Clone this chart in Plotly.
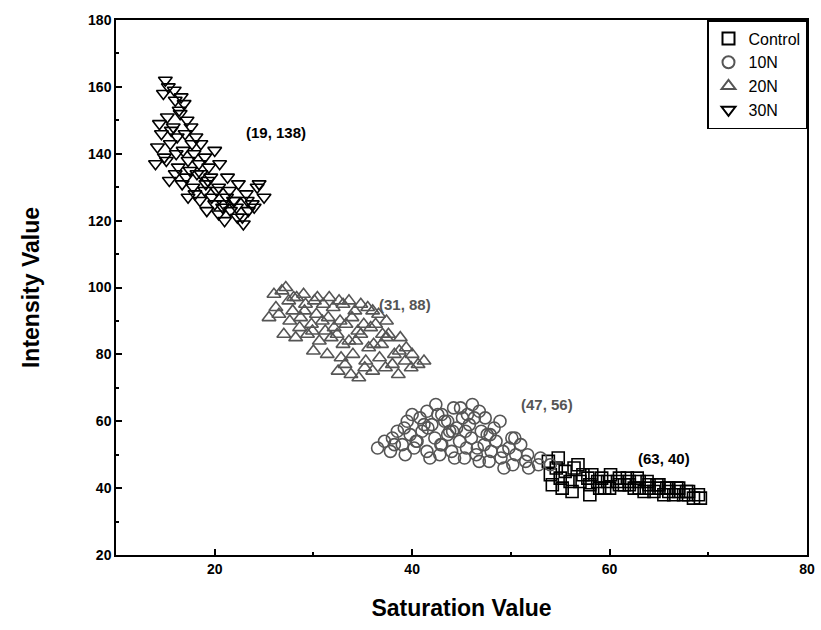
import plotly.graph_objects as go

# ---- data ----
series_names = ["Control", "10N", "20N", "30N"]

control_x = [53.8, 54.6, 55.5, 56.4, 57.3, 58.2, 59.2, 60.1, 61.0, 62.0, 63.0, 64.0, 65.0, 66.0, 67.0, 68.0, 69.0,
             54.2, 55.2, 56.2, 58.0, 59.5, 61.5, 62.5, 63.5, 64.5, 65.5, 66.5, 67.5, 68.5,
             54.0, 55.0, 56.0, 57.0, 58.0, 59.0, 60.0, 61.0, 62.0, 63.0, 64.0, 65.0, 66.0, 67.0, 68.0, 69.2,
             54.8, 56.8, 57.8, 58.8, 59.8, 60.8, 61.8, 62.8, 63.8, 64.8, 65.8, 66.8, 67.8]
control_y = [48, 46, 45, 46, 44, 44, 43, 44, 43, 42, 42, 41, 41, 40, 40, 39, 38,
             41, 40, 39, 38, 40, 41, 40, 39, 39, 38, 38, 38, 37,
             44, 43, 42, 42, 41, 40, 40, 41, 41, 40, 40, 40, 39, 39, 38, 37,
             49, 47, 43, 42, 42, 42, 43, 43, 42, 41, 40, 40, 39]

n10_x = [36.5, 37.8, 39.0, 40.2, 41.5, 42.8, 44.0, 45.3, 46.5, 47.8, 49.0, 50.2, 51.5, 52.8,
         38.5, 39.8, 41.0, 42.3, 43.6, 44.8, 46.0, 47.3, 48.5, 49.8, 51.0,
         39.5, 40.8, 42.0, 43.3, 44.5, 45.8, 47.0, 48.3,
         41.5, 43.0, 44.2, 45.6, 46.8,
         37.2, 38.2, 39.3, 40.5, 41.8, 43.0, 44.3, 45.5, 46.8, 48.0, 49.3, 50.5, 51.8, 53.0, 54.0,
         38.0, 39.2, 40.4, 41.6, 42.9, 44.1, 45.4, 46.6, 47.9, 49.2, 50.4, 51.7,
         40.0, 41.2, 42.6, 43.8, 45.1, 46.3, 47.6, 48.9, 50.1,
         42.4, 43.6, 44.9, 46.1, 47.4]
n10_y = [52, 51, 53, 52, 51, 50, 51, 49, 50, 48, 49, 47, 48, 47,
         57, 56, 57, 55, 56, 54, 55, 53, 54, 52, 53,
         60, 61, 59, 60, 58, 59, 57, 58,
         63, 62, 64, 62, 63,
         54, 53, 50, 54, 49, 53, 49, 52, 48, 51, 46, 50, 46, 49, 47,
         55, 58, 54, 58, 53, 57, 57, 52, 56, 51, 55, 50,
         62, 59, 62, 57, 61, 61, 56, 60, 55,
         65, 60, 64, 65, 61]

n20_x = [26.0, 26.8, 27.5, 28.3, 29.2, 30.1, 31.0, 32.0, 33.0, 34.2, 35.5, 36.6,
         25.5, 26.5, 27.6, 28.7, 29.8, 30.9, 32.1, 33.3, 34.5, 35.8, 37.0,
         27.0, 28.2, 29.4, 30.6, 31.8, 33.0, 34.3, 35.6, 36.9, 38.2, 39.4,
         30.0, 31.4, 32.8, 34.0, 35.3, 36.7, 38.0, 39.3, 40.6,
         32.5, 33.8, 35.2,
         27.2, 28.0, 29.0, 30.4, 31.6, 32.6, 33.6, 34.8, 36.0, 37.4,
         26.2, 27.9, 29.1, 30.3, 31.5, 32.7, 33.9, 35.1, 36.3, 37.6, 38.8,
         28.6, 29.9, 31.2, 32.4, 33.6, 34.8, 36.1, 37.4, 38.7, 40.0,
         33.2, 34.6, 36.0, 37.3, 38.6, 39.9, 41.2]
n20_y = [98, 99, 96, 97, 95, 96, 95, 94, 95, 93, 94, 92,
         91, 92, 90, 91, 89, 90, 88, 89, 87, 88, 86,
         86, 85, 86, 84, 85, 83, 84, 82, 83, 80, 82,
         81, 80, 79, 80, 78, 79, 77, 78, 77,
         75, 74, 76,
         100, 97, 98, 97, 97, 96, 96, 95, 93, 90,
         94, 93, 93, 92, 91, 90, 91, 89, 89, 86, 85,
         88, 87, 87, 86, 84, 86, 83, 85, 81, 80,
         77, 73, 75, 76, 74, 76, 78]

n30_x = [14.8, 15.3, 16.0, 16.6, 15.2, 16.4, 17.2, 14.6, 15.8, 17.0, 18.1, 14.2, 15.5, 16.8, 17.9, 19.0,
         14.0, 15.1, 16.3, 17.5, 18.6, 19.6, 20.5, 15.4, 16.7, 17.8, 19.1, 20.2, 21.3, 22.4,
         17.3, 18.5, 19.7, 20.9, 22.0, 23.2, 24.3, 19.2, 20.4, 21.6, 22.8, 24.0, 25.0, 21.0, 22.3, 23.4,
         15.0, 15.9, 16.9, 14.4, 15.6, 16.5, 17.6, 18.6, 14.9, 16.1, 17.3, 18.4, 19.4, 20.0, 16.0, 17.1,
         18.2, 19.3, 20.4, 21.5, 18.0, 19.0, 20.0, 21.2, 22.2, 23.3, 24.5, 20.8, 21.9, 22.9, 23.8, 16.2, 17.7]
n30_y = [158, 160, 156, 157, 151, 153, 150, 146, 148, 146, 145, 142, 143, 141, 140, 139,
         137, 138, 136, 135, 134, 133, 137, 132, 131, 130, 131, 129, 133, 131,
         127, 126, 127, 125, 126, 128, 130, 123, 122, 123, 121, 124, 127, 120, 121, 123,
         162, 159, 155, 149, 147, 152, 148, 143, 139, 140, 138, 137, 136, 141, 134, 133,
         134, 132, 130, 129, 128, 129, 125, 127, 124, 126, 131, 124, 126, 119, 125, 145, 143]

label_texts = ["(19, 138)", "(31, 88)", "(47, 56)", "(63, 40)"]
label_x = [26.2, 39.3, 53.7, 65.5]
label_y = [146.5, 94.8, 64.9, 49.0]

x_ticks = [20, 40, 60, 80]
y_ticks = [20, 40, 60, 80, 100, 120, 140, 160, 180]

# ---- styles ----
FONT = "Liberation Sans, Arial, sans-serif"
series_data = [
    (control_x, control_y, "square-open", "#000000"),
    (n10_x, n10_y, "circle-open", "#555555"),
    (n20_x, n20_y, "triangle-up-open", "#555555"),
    (n30_x, n30_y, "triangle-down-open", "#000000"),
]

fig = go.Figure()
for name, (xs, ys, sym, col) in zip(series_names, series_data):
    fig.add_trace(go.Scatter(
        x=xs, y=ys, mode="markers", name=name,
        marker=dict(symbol=sym, size=12, color=col, line=dict(width=1.6, color=col)),
    ))

label_colors = ["#000000", "#555555", "#555555", "#000000"]
for t, lx, ly, c in zip(label_texts, label_x, label_y, label_colors):
    fig.add_annotation(x=lx, y=ly, text="<b>" + t + "</b>", showarrow=False,
                       font=dict(family=FONT, size=15, color=c))

fig.update_xaxes(
    range=[10, 80], tickvals=x_ticks, ticktext=["<b>%d</b>" % v for v in x_ticks],
    ticks="inside", ticklen=6, tickwidth=1.5, tickcolor="black",
    minor=dict(dtick=10, tick0=10, ticks="inside", ticklen=3, tickcolor="black"),
    showline=True, linecolor="black", linewidth=1.5, mirror=True,
    showgrid=False, zeroline=False, automargin=False,
    tickfont=dict(family=FONT, size=14, color="black"),
    title=dict(text="<b>Saturation Value</b>", font=dict(family=FONT, size=23, color="black"), standoff=24),
)
fig.update_yaxes(
    range=[20, 180], tickvals=y_ticks, ticktext=["<b>%d</b>" % v for v in y_ticks],
    ticks="inside", ticklen=6, tickwidth=1.5, tickcolor="black",
    minor=dict(dtick=10, tick0=20, ticks="inside", ticklen=3, tickcolor="black"),
    showline=True, linecolor="black", linewidth=1.5, mirror=True,
    showgrid=False, zeroline=False, automargin=False,
    tickfont=dict(family=FONT, size=14, color="black"),
    title=dict(text="<b>Intensity Value</b>", font=dict(family=FONT, size=23, color="black"), standoff=42),
)

fig.update_layout(
    width=821, height=630,
    margin=dict(l=116, r=14, t=20, b=75),
    paper_bgcolor="white", plot_bgcolor="white",
    showlegend=True,
    legend=dict(x=1, y=1, xanchor="right", yanchor="top",
                bordercolor="black", borderwidth=1.5, bgcolor="white",
                font=dict(family=FONT, size=16, color="black"),
                tracegroupgap=0, itemsizing="constant"),
)

fig.write_html("out.html")
